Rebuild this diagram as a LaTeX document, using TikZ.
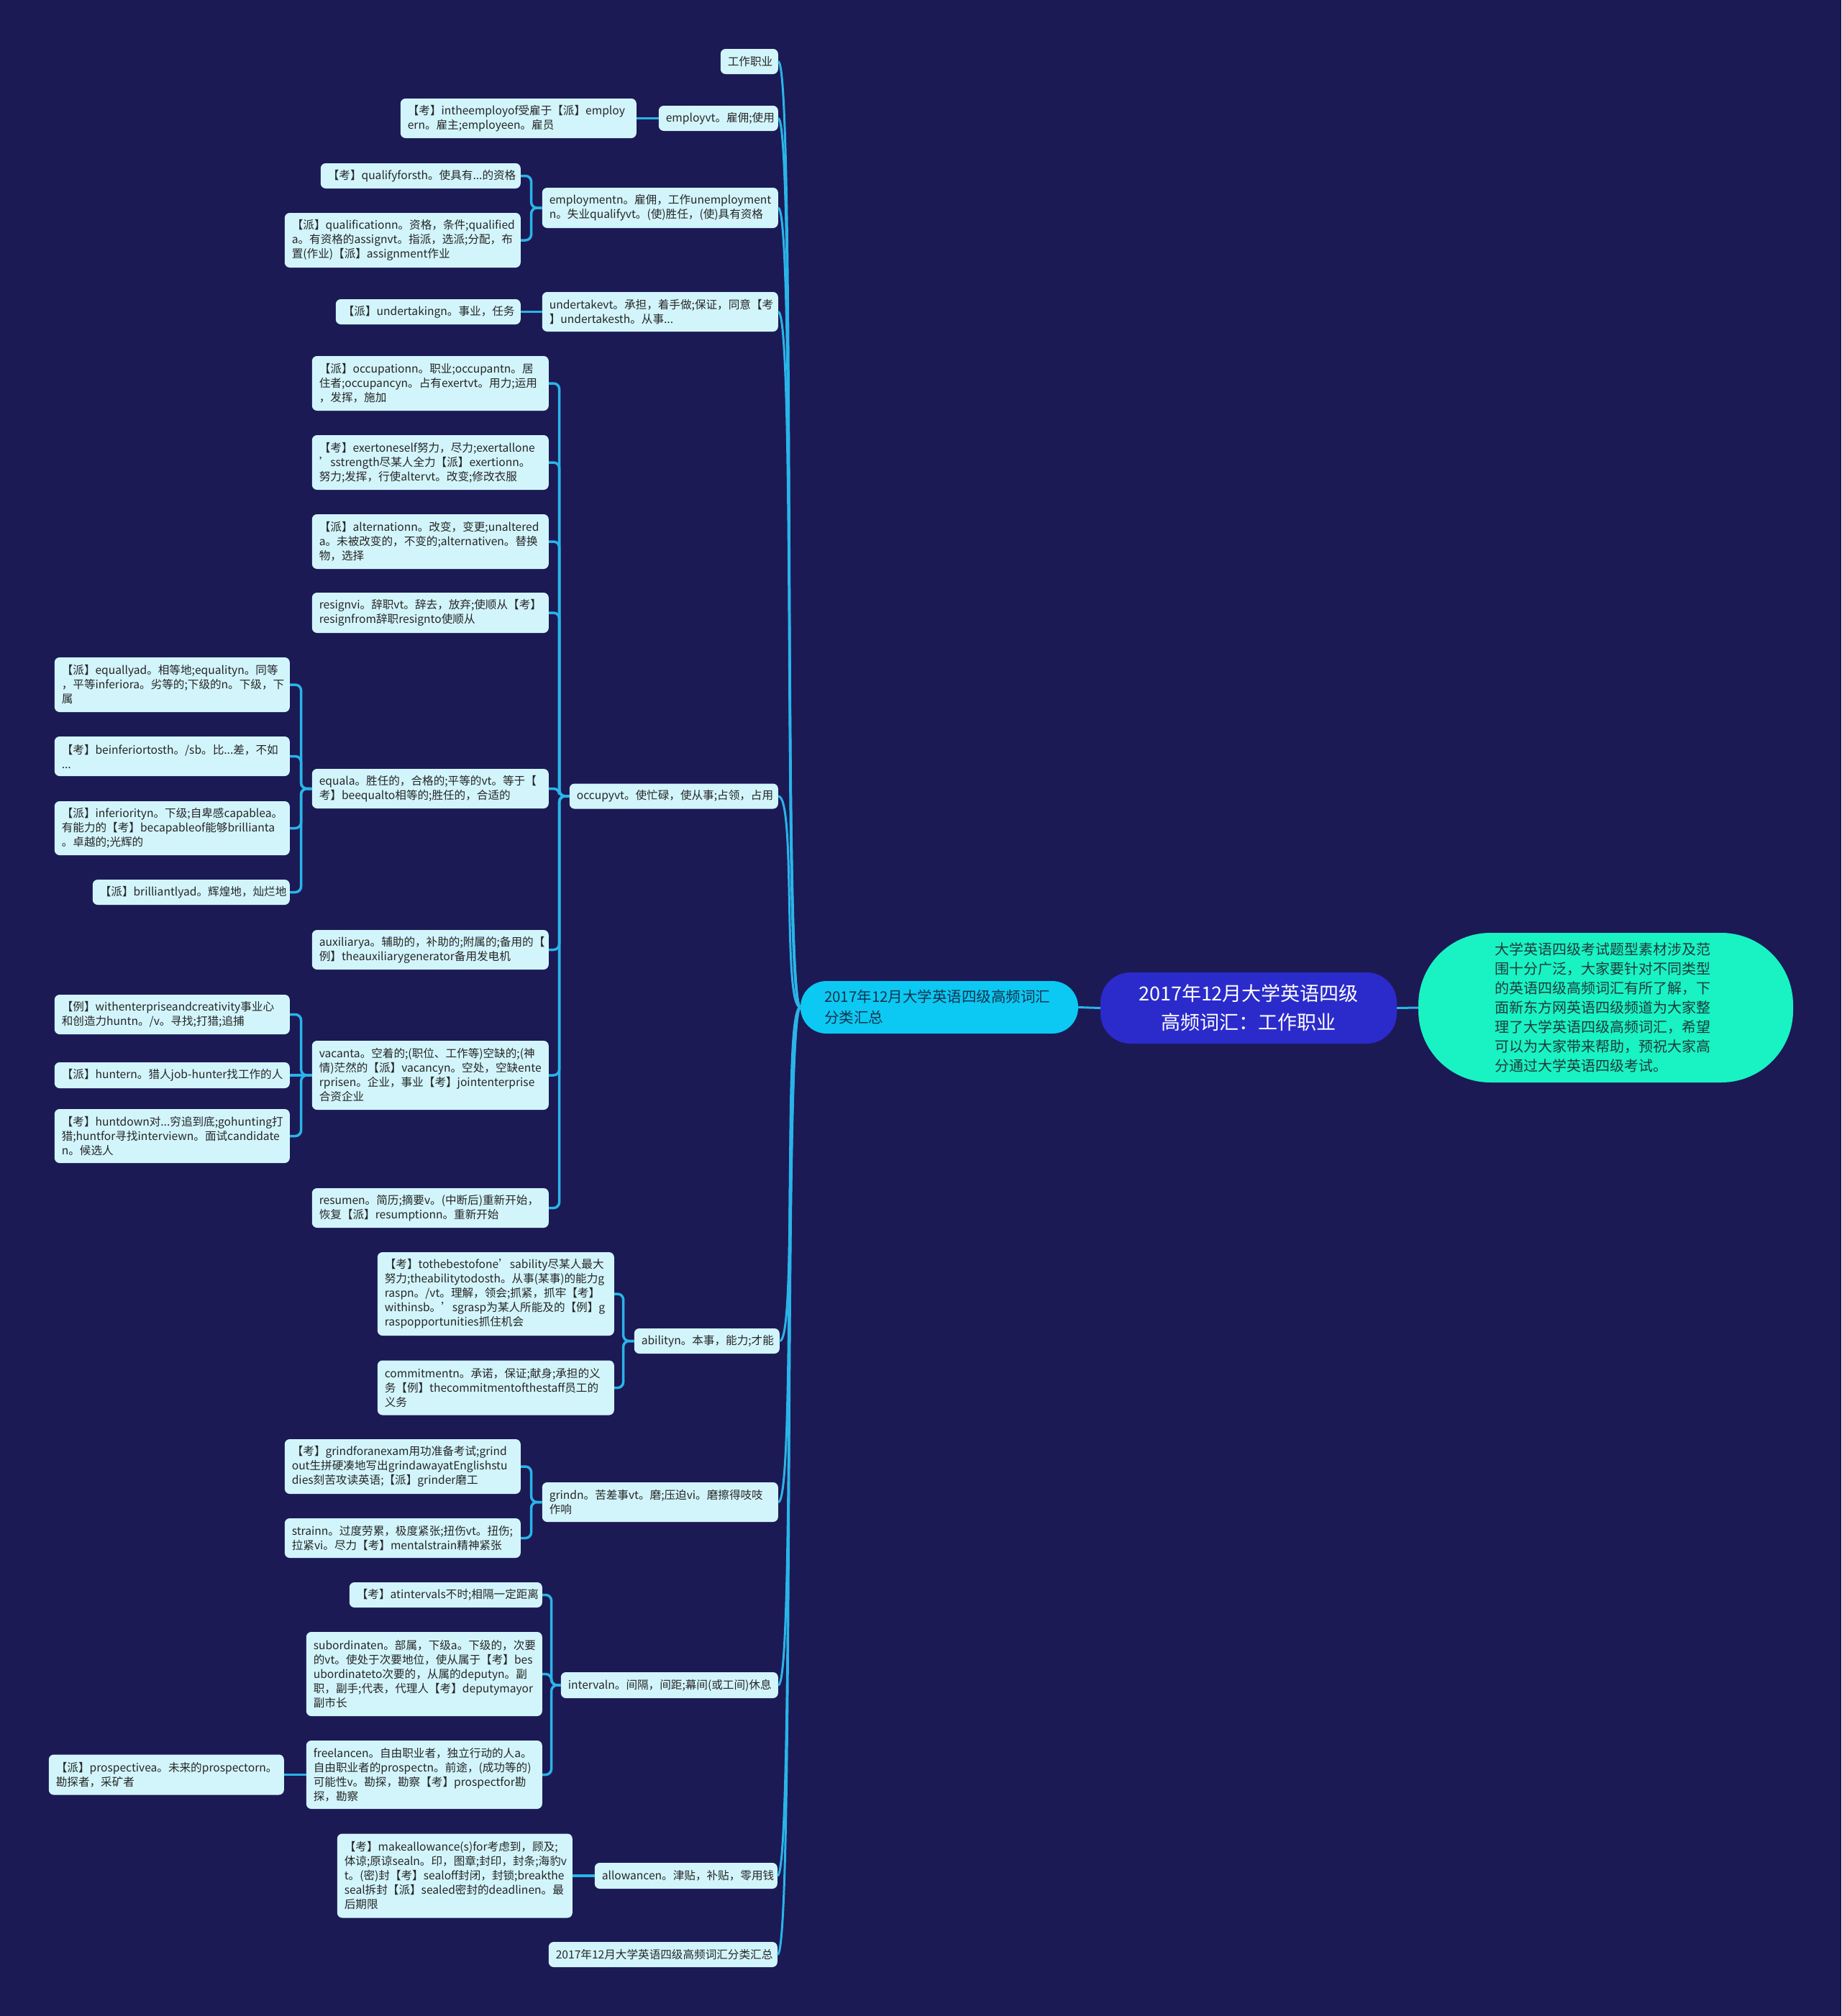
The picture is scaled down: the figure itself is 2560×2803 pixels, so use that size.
\documentclass[tikz,border=0pt]{standalone}
\usepackage{fontspec}
\newfontfamily\cjk{Noto Sans CJK SC}
\exhyphenpenalty=10000
\hyphenpenalty=10000
\definecolor{bgnavy}{HTML}{1B1A55}
\definecolor{linkblue}{HTML}{2AB4E8}
\definecolor{leaffill}{HTML}{D2F5FB}
\definecolor{leaftext}{HTML}{262626}
\definecolor{catfill}{HTML}{0BC9F2}
\definecolor{cattext}{HTML}{16324F}
\definecolor{rootfill}{HTML}{2B2BCB}
\definecolor{notefill}{HTML}{19F2C3}
\definecolor{notetext}{HTML}{1F3B3B}
\begin{document}
\begin{tikzpicture}[x=1pt,y=-1pt,
  every node/.style={font=\cjk,text=leaftext},
  leaf/.style={fill=leaffill,rounded corners=7pt,anchor=east,align=left,inner xsep=10pt,inner ysep=2pt,font=\cjk\fontsize{15.6}{20}\selectfont},
  trunk/.style={draw=linkblue,line width=3pt},
  branch/.style={draw=linkblue,line width=3.5pt,rounded corners=8pt}]
\useasboundingbox (0,0) rectangle (2560,2803);
\fill[bgnavy] (0,0) rectangle (2560,2803);
% centre
\node[fill=rootfill,text=white,rounded corners=42pt,minimum width=412pt,minimum height=99pt,align=center,font=\cjk\fontsize{27}{40}\selectfont] (root) at (1736,1401.5) {2017年12月大学英语四级\\高频词汇：工作职业};
\node[fill=catfill,text=cattext,rounded corners=36pt,text width=320pt,inner xsep=33pt,minimum height=73pt,align=left,font=\cjk\fontsize{20.5}{29}\selectfont] (cat) at (1306,1400.5) {2017年12月大学英语四级高频词汇\\分类汇总};
\node[fill=notefill,text=notetext,rounded corners=100pt,text width=309pt,inner xsep=106pt,minimum height=208pt,align=left,font=\cjk\fontsize{20}{27}\selectfont] (note) at (2232.5,1401) {大学英语四级考试题型素材涉及范\\围十分广泛，大家要针对不同类型\\的英语四级高频词汇有所了解，下\\面新东方网英语四级频道为大家整\\理了大学英语四级高频词汇，希望\\可以为大家带来帮助，预祝大家高\\分通过大学英语四级考试。};
% first level
\node[leaf,text width=60pt,minimum height=35pt] (job) at (1082,85.5) {工作职业};
\node[leaf,text width=146pt,minimum height=35pt] (employ) at (1082,164.5) {employvt。雇佣;使用};
\node[leaf,text width=308pt,minimum height=56pt] (employment) at (1082,289) {employmentn。雇佣，工作unemployment\\n。失业qualifyvt。(使)胜任，(使)具有资格};
\node[leaf,text width=308pt,minimum height=55pt] (undertake) at (1082,433.5) {undertakevt。承担，着手做;保证，同意【考\\】undertakesth。从事...};
\node[leaf,text width=270pt,minimum height=35pt] (occupy) at (1082,1107) {occupyvt。使忙碌，使从事;占领，占用};
\node[leaf,text width=182pt,minimum height=35pt] (ability) at (1084,1864.5) {abilityn。本事，能力;才能};
\node[leaf,text width=308pt,minimum height=55pt] (grind) at (1082,2088.5) {grindn。苦差事vt。磨;压迫vi。磨擦得吱吱\\作响};
\node[leaf,text width=282pt,minimum height=36pt] (interval) at (1082,2343) {intervaln。间隔，间距;幕间(或工间)休息};
\node[leaf,text width=234pt,minimum height=36pt] (allowance) at (1081,2608) {allowancen。津贴，补贴，零用钱};
\node[leaf,text width=298pt,minimum height=35pt] (summary) at (1081,2717.5) {2017年12月大学英语四级高频词汇分类汇总};
% second level
\node[leaf,text width=308pt,minimum height=55pt] (employA) at (885,164.5) {【考】intheemployof受雇于【派】employ\\ern。雇主;employeen。雇员};
\node[leaf,text width=258pt,minimum height=35pt] (qualifyA) at (724,244.5) {【考】qualifyforsth。使具有...的资格};
\node[leaf,text width=308pt,minimum height=76pt] (qualifyB) at (724,334) {【派】qualificationn。资格，条件;qualified\\a。有资格的assignvt。指派，选派;分配，布\\置(作业)【派】assignment作业};
\node[leaf,text width=237pt,minimum height=35pt] (undertakeA) at (724,433.5) {【派】undertakingn。事业，任务};
\node[leaf,text width=309pt,minimum height=76pt] (occA) at (763,533) {【派】occupationn。职业;occupantn。居\\住者;occupancyn。占有exertvt。用力;运用\\，发挥，施加};
\node[leaf,text width=309pt,minimum height=76pt] (occB) at (763,643) {【考】exertoneself努力，尽力;exertallone\\’sstrength尽某人全力【派】exertionn。\\努力;发挥，行使altervt。改变;修改衣服};
\node[leaf,text width=309pt,minimum height=76pt] (occC) at (763,753) {【派】alternationn。改变，变更;unaltered\\a。未被改变的，不变的;alternativen。替换\\物，选择};
\node[leaf,text width=309pt,minimum height=56pt] (occD) at (763,852) {resignvi。辞职vt。辞去，放弃;使顺从【考】\\resignfrom辞职resignto使顺从};
\node[leaf,text width=309pt,minimum height=55pt] (equal) at (763,1096.5) {equala。胜任的，合格的;平等的vt。等于【\\考】beequalto相等的;胜任的，合适的};
\node[leaf,text width=309pt,minimum height=55pt] (auxiliary) at (763,1320.5) {auxiliarya。辅助的，补助的;附属的;备用的【\\例】theauxiliarygenerator备用发电机};
\node[leaf,text width=309pt,minimum height=96pt] (vacant) at (763,1495) {vacanta。空着的;(职位、工作等)空缺的;(神\\情)茫然的【派】vacancyn。空处，空缺ente\\rprisen。企业，事业【考】jointenterprise\\合资企业};
\node[leaf,text width=309pt,minimum height=55pt] (resume) at (763,1679.5) {resumen。简历;摘要v。(中断后)重新开始，\\恢复【派】resumptionn。重新开始};
\node[leaf,text width=309pt,minimum height=116pt] (abA) at (854,1799) {【考】tothebestofone’sability尽某人最大\\努力;theabilitytodosth。从事(某事)的能力g\\raspn。/vt。理解，领会;抓紧，抓牢【考】\\withinsb。’sgrasp为某人所能及的【例】g\\raspopportunities抓住机会};
\node[leaf,text width=309pt,minimum height=76pt] (abB) at (854,1929.5) {commitmentn。承诺，保证;献身;承担的义\\务【例】thecommitmentofthestaff员工的\\义务};
\node[leaf,text width=308pt,minimum height=76pt] (grA) at (724,2039) {【考】grindforanexam用功准备考试;grind\\out生拼硬凑地写出grindawayatEnglishstu\\dies刻苦攻读英语;【派】grinder磨工};
\node[leaf,text width=308pt,minimum height=55pt] (grB) at (724,2138.5) {strainn。过度劳累，极度紧张;扭伤vt。扭伤;\\拉紧vi。尽力【考】mentalstrain精神紧张};
\node[leaf,text width=248pt,minimum height=35pt] (intA) at (754,2217.5) {【考】atintervals不时;相隔一定距离};
\node[leaf,text width=308pt,minimum height=117pt] (intB) at (754,2327.5) {subordinaten。部属，下级a。下级的，次要\\的vt。使处于次要地位，使从属于【考】bes\\ubordinateto次要的，从属的deputyn。副\\职，副手;代表，代理人【考】deputymayor\\副市长};
\node[leaf,text width=308pt,minimum height=95pt] (freelance) at (754,2467.5) {freelancen。自由职业者，独立行动的人a。\\自由职业者的prospectn。前途，(成功等的)\\可能性v。勘探，勘察【考】prospectfor勘\\探，勘察};
\node[leaf,text width=307pt,minimum height=117pt] (allowA) at (796,2608) {【考】makeallowance(s)for考虑到，顾及;\\体谅;原谅sealn。印，图章;封印，封条;海豹v\\t。(密)封【考】sealoff封闭，封锁;breakthe\\seal拆封【派】sealed密封的deadlinen。最\\后期限};
% third level
\node[leaf,text width=307pt,minimum height=76pt] (eqA) at (403,952) {【派】equallyad。相等地;equalityn。同等\\，平等inferiora。劣等的;下级的n。下级，下\\属};
\node[leaf,text width=307pt,minimum height=55pt] (eqB) at (403,1051.5) {【考】beinferiortosth。/sb。比...差，不如\\...};
\node[leaf,text width=307pt,minimum height=75pt] (eqC) at (403,1151.5) {【派】inferiorityn。下级;自卑感capablea。\\有能力的【考】becapableof能够brillianta\\。卓越的;光辉的};
\node[leaf,text width=254pt,minimum height=35pt] (eqD) at (403,1240.5) {【派】brilliantlyad。辉煌地，灿烂地};
\node[leaf,text width=307pt,minimum height=55pt] (vacA) at (403,1410.5) {【例】withenterpriseandcreativity事业心\\和创造力huntn。/v。寻找;打猎;追捕};
\node[leaf,text width=307pt,minimum height=36pt] (vacB) at (403,1495) {\mbox{【派】huntern。猎人job-hunter找工作的人}};
\node[leaf,text width=307pt,minimum height=75pt] (vacC) at (403,1579.5) {【考】huntdown对...穷追到底;gohunting打\\猎;huntfor寻找interviewn。面试candidate\\n。候选人};
\node[leaf,text width=307pt,minimum height=56pt] (freeA) at (395,2467.5) {【派】prospectivea。未来的prospectorn。\\勘探者，采矿者};
% links
\draw[trunk] (root.west) -- (cat.east);
\draw[trunk] (root.east) -- (note.west);
\draw[trunk] (cat.west) .. controls +(-25,0) and +(25,0) .. (job.east);
\draw[trunk] (cat.west) .. controls +(-25,0) and +(25,0) .. (employ.east);
\draw[trunk] (cat.west) .. controls +(-25,0) and +(25,0) .. (employment.east);
\draw[trunk] (cat.west) .. controls +(-25,0) and +(25,0) .. (undertake.east);
\draw[trunk] (cat.west) .. controls +(-25,0) and +(25,0) .. (occupy.east);
\draw[trunk] (cat.west) .. controls +(-25,0) and +(25,0) .. (ability.east);
\draw[trunk] (cat.west) .. controls +(-25,0) and +(25,0) .. (grind.east);
\draw[trunk] (cat.west) .. controls +(-25,0) and +(25,0) .. (interval.east);
\draw[trunk] (cat.west) .. controls +(-25,0) and +(25,0) .. (allowance.east);
\draw[trunk] (cat.west) .. controls +(-25,0) and +(25,0) .. (summary.east);
\draw[branch] (employ.west) -- (employA.east);
\draw[branch] (employment.west) -- ++(-15,0) |- (qualifyA.east);
\draw[branch] (employment.west) -- ++(-15,0) |- (qualifyB.east);
\draw[branch] (undertake.west) -- (undertakeA.east);
\draw[branch] (occupy.west) -- ++(-14,0) |- (occA.east);
\draw[branch] (occupy.west) -- ++(-14,0) |- (occB.east);
\draw[branch] (occupy.west) -- ++(-14,0) |- (occC.east);
\draw[branch] (occupy.west) -- ++(-14,0) |- (occD.east);
\draw[branch] (occupy.west) -- ++(-14,0) |- (equal.east);
\draw[branch] (occupy.west) -- ++(-14,0) |- (auxiliary.east);
\draw[branch] (occupy.west) -- ++(-14,0) |- (vacant.east);
\draw[branch] (occupy.west) -- ++(-14,0) |- (resume.east);
\draw[branch] (equal.west) -- ++(-15,0) |- (eqA.east);
\draw[branch] (equal.west) -- ++(-15,0) |- (eqB.east);
\draw[branch] (equal.west) -- ++(-15,0) |- (eqC.east);
\draw[branch] (equal.west) -- ++(-15,0) |- (eqD.east);
\draw[branch] (vacant.west) -- ++(-15,0) |- (vacA.east);
\draw[branch] (vacant.west) -- (vacB.east);
\draw[branch] (vacant.west) -- ++(-15,0) |- (vacC.east);
\draw[branch] (ability.west) -- ++(-15,0) |- (abA.east);
\draw[branch] (ability.west) -- ++(-15,0) |- (abB.east);
\draw[branch] (grind.west) -- ++(-15,0) |- (grA.east);
\draw[branch] (grind.west) -- ++(-15,0) |- (grB.east);
\draw[branch] (interval.west) -- ++(-13,0) |- (intA.east);
\draw[branch] (interval.west) -- ++(-13,0) |- (intB.east);
\draw[branch] (interval.west) -- ++(-13,0) |- (freelance.east);
\draw[branch] (freelance.west) -- (freeA.east);
\draw[branch] (allowance.west) -- (allowA.east);
\end{tikzpicture}
\end{document}
